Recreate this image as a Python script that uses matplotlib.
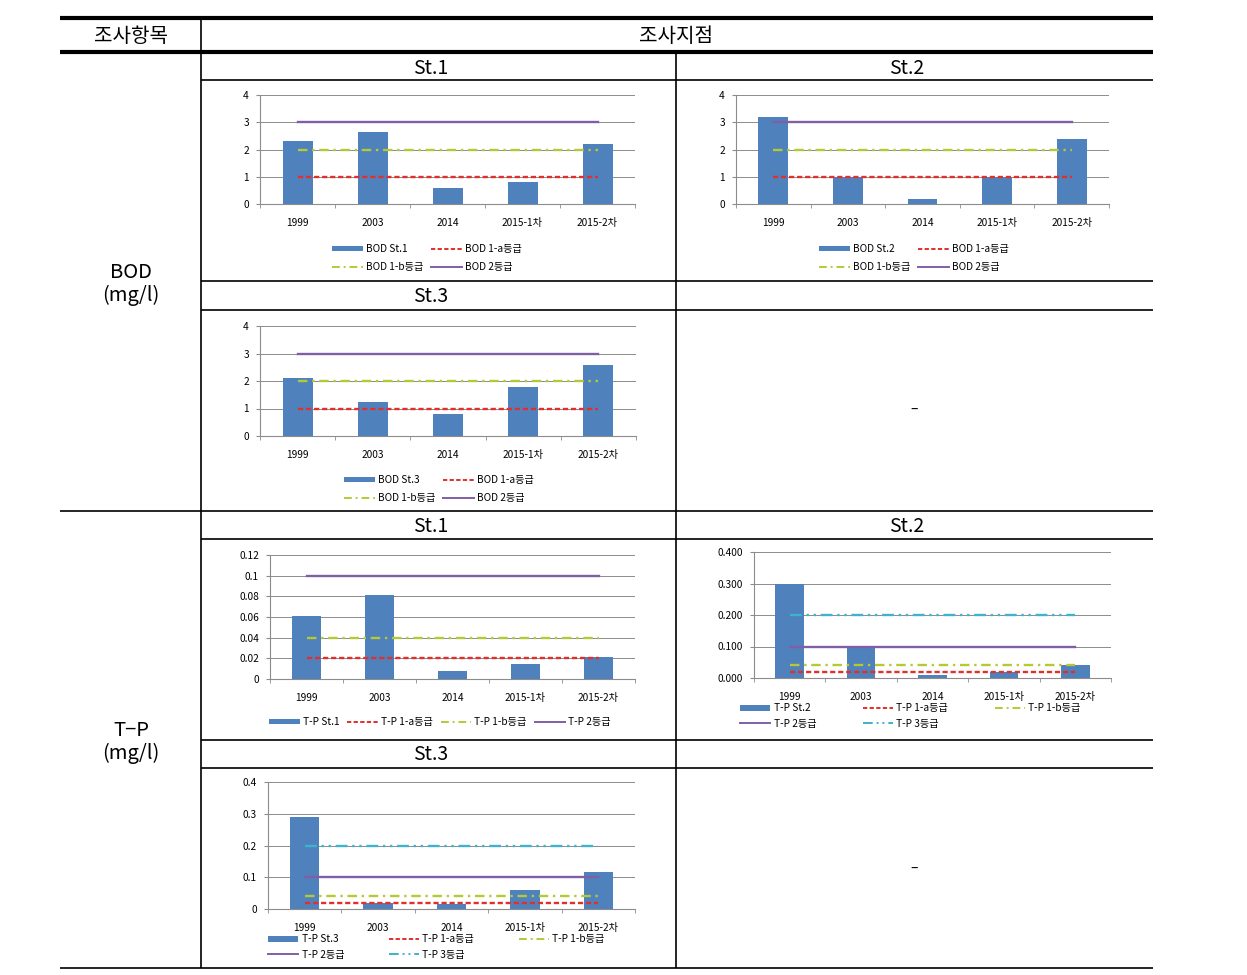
import matplotlib
matplotlib.use("Agg")
import matplotlib.pyplot as plt
from matplotlib.lines import Line2D
from matplotlib.patches import Patch

plt.rcParams['font.family'] = ['Noto Sans CJK KR', 'DejaVu Sans']

W, H = 1247, 975
categories = ["1999", "2003", "2014", "2015-1차", "2015-2차"]

bod_st1 = [2.3, 2.65, 0.6, 0.8, 2.2]
bod_st2 = [3.2, 1.0, 0.2, 1.0, 2.4]
bod_st3 = [2.1, 1.25, 0.8, 1.8, 2.6]
tp_st1 = [0.061, 0.081, 0.008, 0.015, 0.021]
tp_st2 = [0.30, 0.10, 0.01, 0.02, 0.04]
tp_st3 = [0.29, 0.02, 0.015, 0.06, 0.115]

bod_grade_names = ["1-a등급", "1-b등급", "2등급"]
bod_grade_values = [1, 2, 3]
tp_grade_names = ["1-a등급", "1-b등급", "2등급", "3등급"]
tp_grade_values = [0.02, 0.04, 0.1, 0.2]

bod_yticks = [0, 1, 2, 3, 4]
bod_ylabels = ["0", "1", "2", "3", "4"]
tp1_yticks = [0, 0.02, 0.04, 0.06, 0.08, 0.1, 0.12]
tp1_ylabels = ["0", "0.02", "0.04", "0.06", "0.08", "0.1", "0.12"]
tp2_yticks = [0, 0.1, 0.2, 0.3, 0.4]
tp2_ylabels = ["0.000", "0.100", "0.200", "0.300", "0.400"]
tp3_yticks = [0, 0.1, 0.2, 0.3, 0.4]
tp3_ylabels = ["0", "0.1", "0.2", "0.3", "0.4"]

BAR = "#4f81bd"
GCOL = ["#e0302c", "#b5c934", "#7f5fa5", "#3fb2cc"]
GDASH = [(0, (2.2, 1.2)), (0, (4, 2, 1, 2)), "-", (0, (5, 2, 1, 2, 1, 2))]
GRID = "#8c8c8c"
FS = 7.3

fig = plt.figure(figsize=(W / 100, H / 100), dpi=100)
bg = fig.add_axes([0, 0, 1, 1])
bg.set_xlim(0, W); bg.set_ylim(H, 0); bg.axis("off")

def hline(y, x0, x1, lw=1.2):
    bg.plot([x0, x1], [y, y], color="k", lw=lw, solid_capstyle="butt")
def vline(x, y0, y1, lw=1.2):
    bg.plot([x, x], [y0, y1], color="k", lw=lw, solid_capstyle="butt")

# table frame
hline(18, 60, 1153, 3)
hline(52, 60, 1153, 3)
for y in [80, 281, 310, 539, 740, 768]:
    hline(y, 201, 1153)
hline(511, 60, 1153)
hline(968, 60, 1153)
vline(201, 18, 968)
vline(676, 52, 968)

bg.text(131, 37, "조사항목", fontsize=14.5, ha="center", va="center")
bg.text(676, 37, "조사지점", fontsize=14.5, ha="center", va="center")
for x, y, t in [(431, 68, "St.1"), (907, 68, "St.2"), (431, 297, "St.3"),
                (431, 526, "St.1"), (907, 526, "St.2"), (431, 755, "St.3")]:
    bg.text(x, y, t, fontsize=14, ha="center", va="center")
bg.text(131, 284, "BOD\n(mg/l)", fontsize=14.5, ha="center", va="center", linespacing=1.15)
bg.text(131, 742, "T\u2212P\n(mg/l)", fontsize=14.5, ha="center", va="center", linespacing=1.15)
bg.text(914, 410, "\u2013", fontsize=10, ha="center", va="center")
bg.text(914, 869, "\u2013", fontsize=10, ha="center", va="center")


def chart(box, prefix, station, values, gnames, gvals, yticks, ylabels,
          leg_xy, leg_loc, ncol, order, colsp, lsp):
    x0, y0, x1, y1 = box
    ax = fig.add_axes([x0 / W, 1 - y1 / H, (x1 - x0) / W, (y1 - y0) / H])
    xs = list(range(len(categories)))
    ax.bar(xs, values, width=0.4, color=BAR, zorder=2)
    handles = [Patch(facecolor=BAR)]
    labels = [prefix + " " + station]
    for i, (nm, v) in enumerate(zip(gnames, gvals)):
        ax.plot([xs[0], xs[-1]], [v, v], color=GCOL[i], ls=GDASH[i], lw=1.7, zorder=3)
        handles.append(Line2D([], [], color=GCOL[i], ls=GDASH[i], lw=1.4))
        labels.append(prefix + " " + nm)
    ax.set_xlim(-0.5, len(categories) - 0.5)
    ax.set_ylim(yticks[0], yticks[-1])
    ax.set_yticks(yticks, ylabels)
    ax.set_xticks(xs, categories)
    ax.set_xticks([i - 0.5 for i in range(len(categories) + 1)], minor=True)
    ax.tick_params(axis="x", which="major", length=0, pad=10, labelsize=FS)
    ax.tick_params(axis="x", which="minor", length=3, color=GRID, direction="out")
    ax.tick_params(axis="y", length=3, color=GRID, pad=5, labelsize=FS)
    ax.yaxis.grid(True, color=GRID, lw=0.7, zorder=0)
    ax.set_axisbelow(True)
    for s in ["top", "right"]:
        ax.spines[s].set_visible(False)
    for s in ["left", "bottom"]:
        ax.spines[s].set_color(GRID)
        ax.spines[s].set_linewidth(0.8)
    ax.set_facecolor("none")
    h = [handles[i] for i in order]
    l = [labels[i] for i in order]
    ax.legend(h, l, loc=leg_loc, bbox_to_anchor=leg_xy, bbox_transform=bg.transData,
              ncol=ncol, frameon=False, fontsize=FS, handlelength=3.0, handleheight=0.5,
              columnspacing=colsp, handletextpad=0.3, labelspacing=lsp, borderpad=0)
    return ax


bod_order = [0, 2, 1, 3]
tp5_order = [0, 3, 1, 4, 2]

chart((260, 95, 635, 204), "BOD", "St.1", bod_st1, bod_grade_names, bod_grade_values,
      bod_yticks, bod_ylabels, (427, 258), "center", 2, bod_order, 0.8, 0.75)
chart((736, 95, 1109, 204), "BOD", "St.2", bod_st2, bod_grade_names, bod_grade_values,
      bod_yticks, bod_ylabels, (914, 258), "center", 2, bod_order, 0.8, 0.75)
chart((260, 326, 636, 436), "BOD", "St.3", bod_st3, bod_grade_names, bod_grade_values,
      bod_yticks, bod_ylabels, (439, 489), "center", 2, bod_order, 0.8, 0.75)
chart((270, 555, 635, 679), "T-P", "St.1", tp_st1, tp_grade_names[:3], tp_grade_values[:3],
      tp1_yticks, tp1_ylabels, (440, 722), "center", 4, [0, 1, 2, 3], 0.8, 0.5)
chart((754, 552, 1111, 678), "T-P", "St.2", tp_st2, tp_grade_names, tp_grade_values,
      tp2_yticks, tp2_ylabels, (735, 716), "center left", 3, tp5_order, 4.6, 0.5)
chart((268, 782, 635, 909), "T-P", "St.3", tp_st3, tp_grade_names, tp_grade_values,
      tp3_yticks, tp3_ylabels, (263, 947), "center left", 3, tp5_order, 4.4, 0.5)

fig.savefig("out.png", dpi=100)
